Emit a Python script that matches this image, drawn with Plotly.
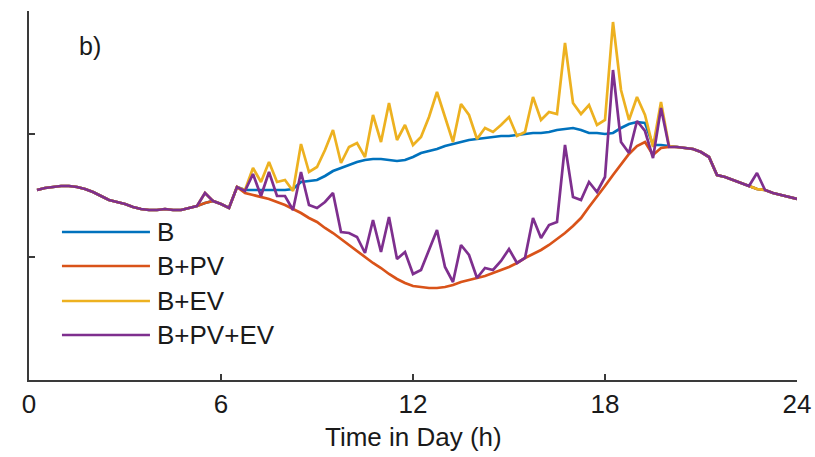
import plotly.graph_objects as go

# time of day (h), 15-minute resolution
hours = [i * 0.25 for i in range(1, 97)]

# load (arbitrary units; axis ticks every 123 units)
B = [190,192,193,194,194,193,191,188,184,180,178,176,173,171,170,170,171,170,170,172,174,177,179,176,172,193,
     190,190,190,190,190,190,191,198,199,200,204,209,212,215,218,220,221,221,220,219,220,223,227,229,231,234,236,238,
     240,241,242,243,244,244,245,246,247,247,248,250,251,252,250,247,247,246,247,252,256,258,257,235,235,234,
     233,232,231,228,223,205,203,200,197,194,191,190,187,185,183,181]
B_PV = [190,192,193,194,194,193,191,188,184,180,178,176,173,171,170,170,171,170,170,172,174,177,179,176,172,193,
        187,185,183,181,178,175,171,167,162,158,152,147,141,135,129,123,117,112,106,101,97,94,93,92,92,93,95,98,
        100,102,104,107,110,113,117,122,126,130,135,141,147,154,162,173,183,194,205,216,226,234,238,225,232,233,
        233,232,231,228,223,205,203,200,197,194,191,190,187,185,183,181]
B_EV = [190,192,193,194,194,193,191,188,184,180,178,176,173,171,170,170,171,170,170,172,174,187,179,176,172,193,
        190,212,198,218,198,200,189,236,208,213,230,250,217,233,237,223,265,238,277,240,255,235,243,263,288,263,238,276,
        265,241,252,248,255,263,244,248,283,260,268,266,337,277,266,275,255,260,358,290,260,283,265,233,278,234,
        233,232,231,228,223,205,203,200,197,194,191,190,187,185,183,181]
B_PV_EV = [190,192,193,194,194,193,191,188,184,180,178,176,173,171,170,170,171,170,170,172,174,187,179,176,172,193,
           189,206,184,208,184,184,170,208,175,172,178,187,148,147,143,127,160,128,163,121,128,106,110,130,150,113,98,135,
           125,102,112,110,119,131,117,122,162,142,155,158,235,183,180,198,188,203,310,238,227,259,249,222,272,233,
           233,232,231,228,223,205,203,200,197,194,207,190,187,185,183,181]

series_names = ["B", "B+PV", "B+EV", "B+PV+EV"]
series_data = [B, B_PV, B_EV, B_PV_EV]
colors = ["#0072BD", "#D95319", "#EDB120", "#7E2F8E"]

x_ticks = [0, 6, 12, 18, 24]
y_ticks = [0, 123, 246, 369]

fig = go.Figure()
for name, vals, c in zip(series_names, series_data, colors):
    fig.add_trace(go.Scatter(x=hours, y=vals, mode="lines", name=name,
                             line=dict(color=c, width=2.7), showlegend=False))

FONT = "Liberation Sans, Arial, sans-serif"
TXT = "#1a1a1a"
axis_col = "#3a3a3a"

# manual legend (long line samples like the original)
leg_y = [148, 114, 79, 45]
for name, c, ly in zip(series_names, colors, leg_y):
    fig.add_shape(type="line", xref="x", yref="y", x0=1.03, x1=3.78, y0=ly, y1=ly,
                  line=dict(color=c, width=2.7))
    fig.add_annotation(x=3.95, y=ly, xref="x", yref="y", text=name, showarrow=False,
                       xanchor="left", yanchor="middle",
                       font=dict(family=FONT, size=26, color=TXT))

fig.add_annotation(x=1.5, y=334, xref="x", yref="y", text="b)", showarrow=False,
                   xanchor="left", yanchor="middle",
                   font=dict(family=FONT, size=25, color=TXT))

# x-axis title
fig.add_annotation(x=0.5, y=-0.155, xref="paper", yref="paper", text="Time in Day (h)",
                   showarrow=False, xanchor="center", yanchor="middle",
                   font=dict(family=FONT, size=26, color=TXT))

fig.update_layout(
    width=815, height=457,
    margin=dict(l=29, r=18, t=11, b=77),
    paper_bgcolor="white", plot_bgcolor="white",
    font=dict(family=FONT, color=TXT),
    xaxis=dict(range=[0, 24], tickvals=x_ticks, ticktext=[str(v) for v in x_ticks],
               ticks="inside", ticklen=6, tickwidth=1.5, tickcolor=axis_col,
               showline=True, linecolor=axis_col, linewidth=1.5, showgrid=False, zeroline=False,
               automargin=False,
               tickfont=dict(family=FONT, size=26, color=TXT)),
    yaxis=dict(range=[0, 369], tickvals=y_ticks, showticklabels=False,
               ticks="inside", ticklen=6, tickwidth=1.5, tickcolor=axis_col,
               showline=True, linecolor=axis_col, linewidth=1.5, showgrid=False, zeroline=False,
               automargin=False),
)

fig.write_html("out.html")
